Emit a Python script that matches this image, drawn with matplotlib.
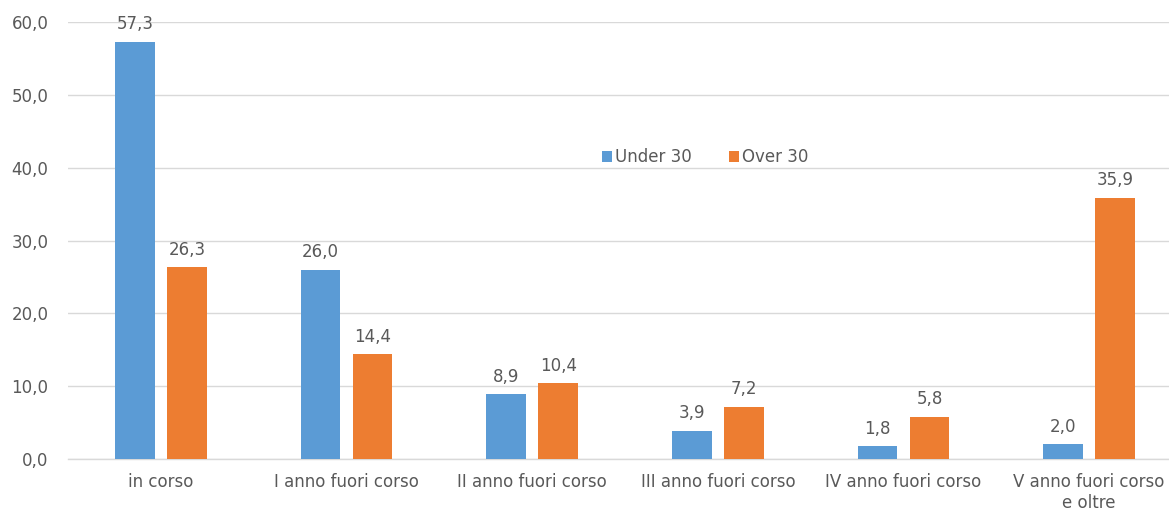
import numpy as np
import matplotlib
matplotlib.use("Agg")
from matplotlib import pyplot as plt

categorie = ["in corso", "I anno fuori corso", "II anno fuori corso",
             "III anno fuori corso", "IV anno fuori corso", "V anno fuori corso\ne oltre"]
under30 = [57.3, 26.0, 8.9, 3.9, 1.8, 2.0]
over30 = [26.3, 14.4, 10.4, 7.2, 5.8, 35.9]

blu = "#5b9bd5"
arancio = "#ed7d31"
grigio = "#595959"

plt.rcParams["font.family"] = ["DejaVu Sans"]

fig = plt.figure(figsize=(11.69, 5.14), dpi=100)
ax = fig.add_axes([68 / 1169, 55 / 514, 1114 / 1169, 437 / 514])

x = np.arange(len(categorie))
w = 0.215
b1 = ax.bar(x - 0.14, under30, w, color=blu, label="Under 30", zorder=3)
b2 = ax.bar(x + 0.14, over30, w, color=arancio, label="Over 30", zorder=3)

for barre in (b1, b2):
    for r in barre:
        v = r.get_height()
        ax.annotate(("%.1f" % v).replace(".", ","), (r.get_x() + r.get_width() / 2, v),
                    xytext=(0, 6), textcoords="offset points", ha="center", va="bottom",
                    fontsize=12, color=grigio)

ax.set_ylim(0, 60)
ax.set_xlim(-0.5, 5.5)
ax.set_yticks(np.arange(0, 61, 10))
ax.set_yticklabels([("%.1f" % t).replace(".", ",") for t in np.arange(0, 61, 10)])
ax.set_xticks(x)
ax.set_xticklabels(categorie, linespacing=1.2)
ax.tick_params(axis="both", length=0, labelsize=12, colors=grigio)
ax.tick_params(axis="y", pad=14)
ax.tick_params(axis="x", pad=10)
ax.grid(axis="y", color="#d9d9d9", linewidth=1, zorder=0)
for s in ["top", "right", "left"]:
    ax.spines[s].set_visible(False)
ax.spines["bottom"].set_color("#d9d9d9")
ax.spines["bottom"].set_linewidth(1)

leg = ax.legend(loc="center", bbox_to_anchor=(637 / 1114, 0.69), ncol=2, frameon=False,
                fontsize=12, handlelength=0.6, handleheight=0.6, handletextpad=0.2,
                columnspacing=2.2)
for t in leg.get_texts():
    t.set_color(grigio)

fig.savefig("out.png", dpi=100)
